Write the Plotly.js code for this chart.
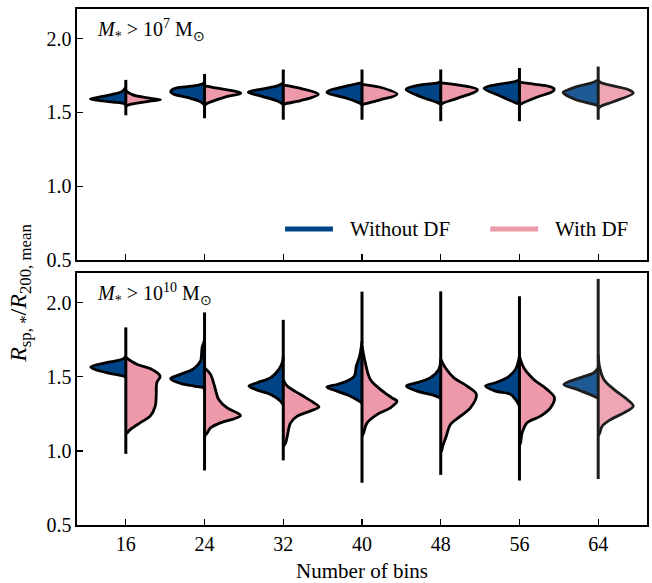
<!DOCTYPE html>
<html>
<head>
<meta charset="utf-8">
<script src="https://cdn.plot.ly/plotly-3.0.1.min.js"></script>
<style>html,body{margin:0;padding:0;background:#fff}#chart{width:652px;height:583px}</style>
</head>
<body>
<div id="chart"></div>
<script>
// ---------- DATA ----------
const bins = ['16', '24', '32', '40', '48', '56', '64'];
const seriesNames = ['Without DF', 'With DF'];
const panelLabels = ['<i>M</i><sub>*</sub> > 10<sup>7</sup> M<sub>⊙</sub>', '<i>M</i><sub>*</sub> > 10<sup>10</sup> M<sub>⊙</sub>'];

// extent of each violin (tails), top panel M* > 1e7
const topLineMin = [1.48, 1.46, 1.45, 1.45, 1.44, 1.44, 1.45];
const topLineMax = [1.72, 1.76, 1.79, 1.79, 1.79, 1.80, 1.81];
// extent of each violin, bottom panel M* > 1e10
const botLineMin = [0.98, 0.868, 0.936, 0.785, 0.838, 0.80, 0.81];
const botLineMax = [1.833, 1.934, 1.884, 2.074, 2.076, 2.043, 2.16];

// density profiles: y knots and half-widths (in units of bin spacing)
const topWithoutY = [
  [1.55, 1.56, 1.57, 1.58, 1.59, 1.60, 1.62, 1.64, 1.67],
  [1.55, 1.572, 1.602, 1.623, 1.64, 1.66, 1.674, 1.688, 1.70],
  [1.55, 1.56, 1.577, 1.611, 1.636, 1.656, 1.679, 1.70],
  [1.55, 1.56, 1.595, 1.636, 1.679, 1.70],
  [1.555, 1.566, 1.606, 1.656, 1.686, 1.70, 1.71],
  [1.555, 1.566, 1.611, 1.663, 1.692, 1.708, 1.72],
  [1.54, 1.55, 1.584, 1.625, 1.635, 1.674, 1.70, 1.72]
];
const topWithoutW = [
  [0, 0.03, 0.16, 0.33, 0.45, 0.37, 0.18, 0.05, 0],
  [0, 0.05, 0.22, 0.39, 0.43, 0.39, 0.22, 0.05, 0],
  [0, 0.02, 0.076, 0.29, 0.445, 0.29, 0.076, 0],
  [0, 0.02, 0.19, 0.445, 0.19, 0],
  [0, 0.04, 0.254, 0.44, 0.254, 0.04, 0],
  [0, 0.055, 0.245, 0.45, 0.245, 0.055, 0],
  [0, 0.03, 0.275, 0.43, 0.445, 0.275, 0.08, 0]
];
const topWithY = [
  [1.54, 1.55, 1.56, 1.575, 1.585, 1.592, 1.60, 1.62, 1.645],
  [1.545, 1.56, 1.602, 1.63, 1.66, 1.68],
  [1.55, 1.557, 1.579, 1.623, 1.663, 1.685],
  [1.55, 1.555, 1.584, 1.623, 1.67, 1.69],
  [1.55, 1.56, 1.595, 1.652, 1.686, 1.70],
  [1.55, 1.56, 1.602, 1.645, 1.66, 1.675, 1.69, 1.705],
  [1.528, 1.54, 1.572, 1.63, 1.65, 1.679, 1.70, 1.715]
];
const topWithW = [
  [0, 0.03, 0.12, 0.29, 0.44, 0.36, 0.25, 0.08, 0],
  [0, 0.03, 0.25, 0.46, 0.2, 0],
  [0, 0.02, 0.22, 0.445, 0.22, 0],
  [0, 0.02, 0.23, 0.445, 0.23, 0],
  [0, 0.02, 0.21, 0.466, 0.21, 0],
  [0, 0.03, 0.22, 0.43, 0.44, 0.38, 0.2, 0],
  [0, 0.03, 0.19, 0.445, 0.40, 0.19, 0.04, 0]
];
const botWithoutY = [
  [1.495, 1.50, 1.523, 1.539, 1.565, 1.60, 1.622, 1.64],
  [1.41, 1.426, 1.437, 1.455, 1.487, 1.516, 1.555, 1.607, 1.64, 1.70, 1.73, 1.76],
  [1.31, 1.335, 1.381, 1.41, 1.437, 1.46, 1.494, 1.55, 1.60, 1.64],
  [1.32, 1.33, 1.369, 1.403, 1.43, 1.448, 1.471, 1.505, 1.573, 1.64, 1.74],
  [1.35, 1.358, 1.381, 1.403, 1.437, 1.46, 1.494, 1.55, 1.62],
  [1.30, 1.313, 1.381, 1.403, 1.437, 1.46, 1.494, 1.55, 1.64],
  [1.355, 1.369, 1.415, 1.448, 1.494, 1.527, 1.56]
];
const botWithoutW = [
  [0, 0.01, 0.2, 0.326, 0.445, 0.2, 0.03, 0],
  [0, 0.017, 0.136, 0.305, 0.43, 0.305, 0.136, 0.05, 0.04, 0.03, 0.01, 0],
  [0, 0.034, 0.16, 0.33, 0.436, 0.33, 0.16, 0.055, 0.01, 0],
  [0, 0.02, 0.148, 0.318, 0.445, 0.318, 0.19, 0.097, 0.072, 0.03, 0],
  [0, 0.013, 0.131, 0.30, 0.436, 0.30, 0.131, 0.025, 0],
  [0, 0.01, 0.114, 0.305, 0.432, 0.305, 0.157, 0.05, 0],
  [0, 0.055, 0.267, 0.436, 0.225, 0.055, 0]
];
const botWithY = [
  [1.12, 1.121, 1.143, 1.189, 1.234, 1.30, 1.37, 1.46, 1.505, 1.555, 1.584, 1.63],
  [1.10, 1.121, 1.155, 1.189, 1.216, 1.238, 1.256, 1.29, 1.347, 1.437, 1.516, 1.561],
  [1.03, 1.053, 1.098, 1.189, 1.234, 1.268, 1.297, 1.324, 1.38, 1.437, 1.48],
  [1.10, 1.121, 1.189, 1.245, 1.29, 1.335, 1.358, 1.415, 1.482, 1.595, 1.71],
  [0.99, 1.0, 1.04, 1.098, 1.178, 1.234, 1.29, 1.381, 1.437, 1.494, 1.561, 1.62],
  [1.04, 1.053, 1.121, 1.189, 1.234, 1.29, 1.358, 1.415, 1.482, 1.561, 1.64],
  [1.10, 1.121, 1.166, 1.211, 1.256, 1.302, 1.347, 1.415, 1.482, 1.56, 1.65]
];
const botWithW = [
  [0, 0.013, 0.055, 0.18, 0.31, 0.373, 0.386, 0.394, 0.436, 0.31, 0.14, 0],
  [0, 0.034, 0.076, 0.2, 0.373, 0.457, 0.415, 0.288, 0.18, 0.127, 0.076, 0],
  [0, 0.03, 0.05, 0.093, 0.178, 0.34, 0.453, 0.39, 0.22, 0.05, 0],
  [0, 0.02, 0.064, 0.19, 0.36, 0.445, 0.38, 0.233, 0.106, 0.042, 0],
  [0, 0.01, 0.03, 0.07, 0.123, 0.25, 0.377, 0.453, 0.335, 0.165, 0.059, 0],
  [0, 0.013, 0.034, 0.097, 0.267, 0.394, 0.445, 0.35, 0.182, 0.055, 0],
  [0, 0.02, 0.05, 0.157, 0.326, 0.445, 0.368, 0.2, 0.072, 0.02, 0]
];

// ---------- STYLE ----------
const BLUE = '#004488', PINK = '#EE99AA';
const BLUE_FADE = '#1e5a96', PINK_FADE = '#f0a5b4';
const EDGE = '#000000', EDGE_FADE = '#1e1e1e';
const FONT = 'Liberation Serif';

const traces = [];
function addHalves(Ys, Ws, side, xa, ya) {
  Ys.forEach((ys, i) => {
    const last = i === bins.length - 1;
    const fill = side < 0 ? (last ? BLUE_FADE : BLUE) : (last ? PINK_FADE : PINK);
    traces.push({
      type: 'scatter', mode: 'lines', xaxis: xa, yaxis: ya,
      x: Ws[i].map(w => i + side * w), y: ys,
      fill: 'toself', fillcolor: fill,
      line: {color: last ? EDGE_FADE : EDGE, width: 2.8, shape: 'spline', smoothing: 1},
      hoverinfo: 'skip', showlegend: false
    });
  });
}
function addLines(mins, maxs, xa, ya) {
  mins.forEach((m, i) => {
    const last = i === bins.length - 1;
    traces.push({
      type: 'scatter', mode: 'lines', xaxis: xa, yaxis: ya,
      x: [i, i], y: [m, maxs[i]],
      line: {color: last ? EDGE_FADE : EDGE, width: 3},
      hoverinfo: 'skip', showlegend: false
    });
  });
}
addHalves(topWithoutY, topWithoutW, -1, 'x', 'y');
addHalves(topWithY, topWithW, 1, 'x', 'y');
addLines(topLineMin, topLineMax, 'x', 'y');
addHalves(botWithoutY, botWithoutW, -1, 'x2', 'y2');
addHalves(botWithY, botWithW, 1, 'x2', 'y2');
addLines(botLineMin, botLineMax, 'x2', 'y2');

const tickIdx = bins.map((b, i) => i);
const xBase = {
  range: [-0.62, 6.62], tickvals: tickIdx, ticktext: bins,
  ticks: 'inside', ticklen: 6, tickwidth: 1.3, tickcolor: '#000',
  showline: true, linecolor: '#000', linewidth: 1.6, mirror: true,
  showgrid: false, zeroline: false, fixedrange: true,
  tickfont: {family: FONT, size: 20, color: '#000'}
};
const yBase = {
  range: [0.5, 2.2], tickvals: [0.5, 1.0, 1.5, 2.0], tickformat: '.1f',
  ticks: 'inside', ticklen: 6, tickwidth: 1.3, tickcolor: '#000',
  showline: true, linecolor: '#000', linewidth: 1.6, mirror: true,
  showgrid: false, zeroline: false, fixedrange: true,
  tickfont: {family: FONT, size: 20, color: '#000'}
};

const layout = {
  width: 652, height: 583,
  margin: {l: 77, r: 5, t: 9, b: 58},
  paper_bgcolor: '#fff', plot_bgcolor: '#fff',
  showlegend: false,
  font: {family: FONT, color: '#000', size: 20},
  xaxis: Object.assign({}, xBase, {domain: [0, 1], anchor: 'y', showticklabels: false}),
  yaxis: Object.assign({}, yBase, {domain: [0.5136, 1], anchor: 'x'}),
  xaxis2: Object.assign({}, xBase, {domain: [0, 1], anchor: 'y2',
    title: {text: 'Number of bins', font: {family: FONT, size: 21, color: '#000'}, standoff: 12}}),
  yaxis2: Object.assign({}, yBase, {domain: [0, 0.4884], anchor: 'x2'}),
  annotations: [
    {xref: 'x domain', yref: 'y domain', x: 0.031, y: 0.915, xanchor: 'left', yanchor: 'middle',
     text: panelLabels[0], showarrow: false, font: {family: FONT, size: 20, color: '#000'}},
    {xref: 'x2 domain', yref: 'y2 domain', x: 0.031, y: 0.915, xanchor: 'left', yanchor: 'middle',
     text: panelLabels[1], showarrow: false, font: {family: FONT, size: 20, color: '#000'}},
    {xref: 'paper', yref: 'paper', x: -0.1, y: 0.448, xanchor: 'center', yanchor: 'middle',
     textangle: -90, showarrow: false,
     text: '<i>R</i><sub>sp, *</sub>/<i>R</i><sub>200, mean</sub>',
     font: {family: FONT, size: 24, color: '#000'}},
    {xref: 'x domain', yref: 'y domain', x: 0.475, y: 0.1235, xanchor: 'left', yanchor: 'middle',
     text: seriesNames[0], showarrow: false, font: {family: FONT, size: 21, color: '#000'}},
    {xref: 'x domain', yref: 'y domain', x: 0.835, y: 0.1235, xanchor: 'left', yanchor: 'middle',
     text: seriesNames[1], showarrow: false, font: {family: FONT, size: 21, color: '#000'}}
  ],
  shapes: [
    {type: 'line', xref: 'x domain', yref: 'y domain', x0: 0.365, x1: 0.449, y0: 0.1235, y1: 0.1235,
     line: {color: BLUE, width: 5}},
    {type: 'line', xref: 'x domain', yref: 'y domain', x0: 0.725, x1: 0.809, y0: 0.1235, y1: 0.1235,
     line: {color: PINK, width: 5}}
  ]
};

Plotly.newPlot('chart', traces, layout, {staticPlot: true, displayModeBar: false});
</script>
</body>
</html>
